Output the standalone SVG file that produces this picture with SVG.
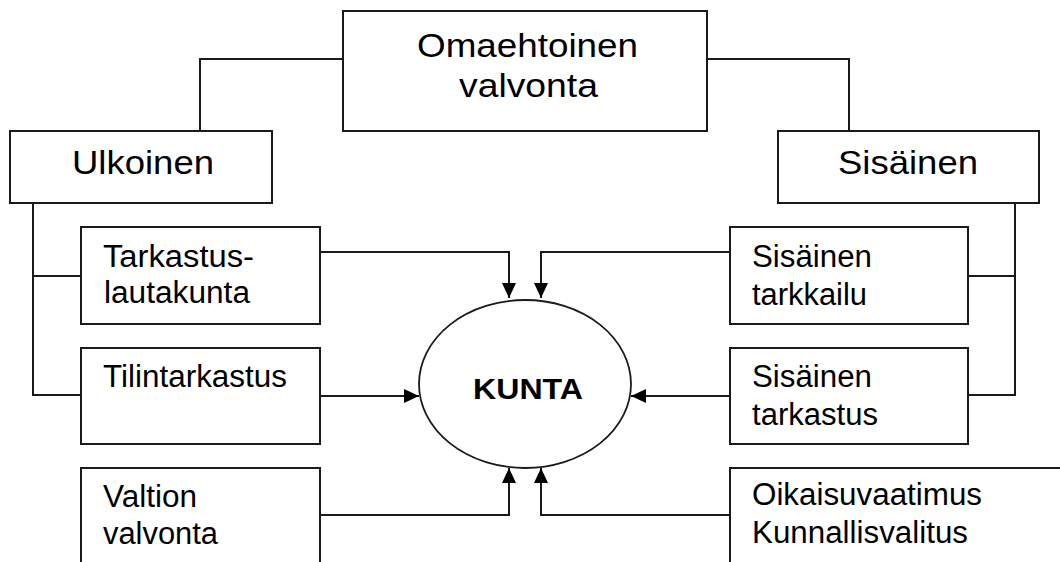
<svg xmlns="http://www.w3.org/2000/svg" width="1060" height="562" viewBox="0 0 1060 562">
  <style>
    .box { fill: #ffffff; stroke: #1a1a1a; stroke-width: 2; }
    .ell { fill: #ffffff; stroke: #1a1a1a; stroke-width: 1.8; }
    .line { fill: none; stroke: #1a1a1a; stroke-width: 2; }
    .arrow { fill: none; stroke: #1a1a1a; stroke-width: 2; marker-end: url(#ah); }
    text { font-family: "Liberation Sans", Arial, sans-serif; fill: #000000; }
    .big { font-size: 34px; }
    .lbl { font-size: 31px; }
    .bold { font-size: 30px; font-weight: bold; }
  </style>
  <defs>
    <marker id="ah" viewBox="0 0 15 14" refX="15" refY="7" markerWidth="15" markerHeight="14" markerUnits="userSpaceOnUse" orient="auto">
      <path d="M0,0 L15,7 L0,14 z" fill="#000000"/>
    </marker>
  </defs>
  <rect width="1060" height="562" fill="#ffffff"/>

  <g id="connectors">
    <polyline class="line" points="343,59 200,59 200,131"/>
    <polyline class="line" points="707,59 849,59 849,131"/>
    <polyline class="line" points="33,203 33,395 81,395"/>
    <line class="line" x1="33" y1="276" x2="81" y2="276"/>
    <polyline class="line" points="1015,203 1015,395 968,395"/>
    <line class="line" x1="968" y1="276" x2="1015" y2="276"/>
    <polyline class="arrow" points="320,252 509,252 509,298"/>
    <polyline class="arrow" points="730,252 541,252 541,298"/>
    <line class="arrow" x1="320" y1="396" x2="419" y2="396"/>
    <line class="arrow" x1="730" y1="396" x2="631" y2="396"/>
    <polyline class="arrow" points="320,515 509,515 509,468"/>
    <polyline class="arrow" points="730,515 541,515 541,468"/>
  </g>

  <g id="omaehtoinen">
    <rect class="box" x="343" y="11" width="364" height="120"/>
    <text class="big" x="417" y="57" textLength="221" lengthAdjust="spacingAndGlyphs">Omaehtoinen</text>
    <text class="big" x="459" y="97" textLength="139" lengthAdjust="spacingAndGlyphs">valvonta</text>
  </g>

  <g id="ulkoinen">
    <rect class="box" x="10" y="131" width="262" height="72"/>
    <text class="big" x="72" y="174" textLength="142" lengthAdjust="spacingAndGlyphs">Ulkoinen</text>
  </g>

  <g id="sisainen">
    <rect class="box" x="778" y="131" width="261" height="72"/>
    <text class="big" x="838" y="174" textLength="140" lengthAdjust="spacingAndGlyphs">Sisäinen</text>
  </g>

  <g id="tarkastuslautakunta">
    <rect class="box" x="81" y="227" width="239" height="97"/>
    <text class="lbl" x="103" y="267" textLength="151" lengthAdjust="spacingAndGlyphs">Tarkastus-</text>
    <text class="lbl" x="104" y="303" textLength="146" lengthAdjust="spacingAndGlyphs">lautakunta</text>
  </g>

  <g id="tilintarkastus">
    <rect class="box" x="81" y="348" width="239" height="96"/>
    <text class="lbl" x="103" y="387" textLength="184" lengthAdjust="spacingAndGlyphs">Tilintarkastus</text>
  </g>

  <g id="valtion">
    <rect class="box" x="81" y="468" width="239" height="110"/>
    <text class="lbl" x="103" y="507" textLength="94" lengthAdjust="spacingAndGlyphs">Valtion</text>
    <text class="lbl" x="103" y="544" textLength="115" lengthAdjust="spacingAndGlyphs">valvonta</text>
  </g>

  <g id="sisainen-tarkkailu">
    <rect class="box" x="730" y="227" width="238" height="97"/>
    <text class="lbl" x="752" y="267" textLength="120" lengthAdjust="spacingAndGlyphs">Sisäinen</text>
    <text class="lbl" x="752" y="305" textLength="115" lengthAdjust="spacingAndGlyphs">tarkkailu</text>
  </g>

  <g id="sisainen-tarkastus">
    <rect class="box" x="730" y="348" width="238" height="96"/>
    <text class="lbl" x="752" y="387" textLength="120" lengthAdjust="spacingAndGlyphs">Sisäinen</text>
    <text class="lbl" x="752" y="425" textLength="126" lengthAdjust="spacingAndGlyphs">tarkastus</text>
  </g>

  <g id="oikaisuvaatimus">
    <rect class="box" x="730" y="468" width="350" height="110"/>
    <text class="lbl" x="752" y="505" textLength="230" lengthAdjust="spacingAndGlyphs">Oikaisuvaatimus</text>
    <text class="lbl" x="752" y="543" textLength="216" lengthAdjust="spacingAndGlyphs">Kunnallisvalitus</text>
  </g>

  <g id="kunta">
    <ellipse class="ell" cx="525" cy="384" rx="106" ry="84"/>
    <text class="bold" x="473" y="399" textLength="110" lengthAdjust="spacingAndGlyphs">KUNTA</text>
  </g>
</svg>
